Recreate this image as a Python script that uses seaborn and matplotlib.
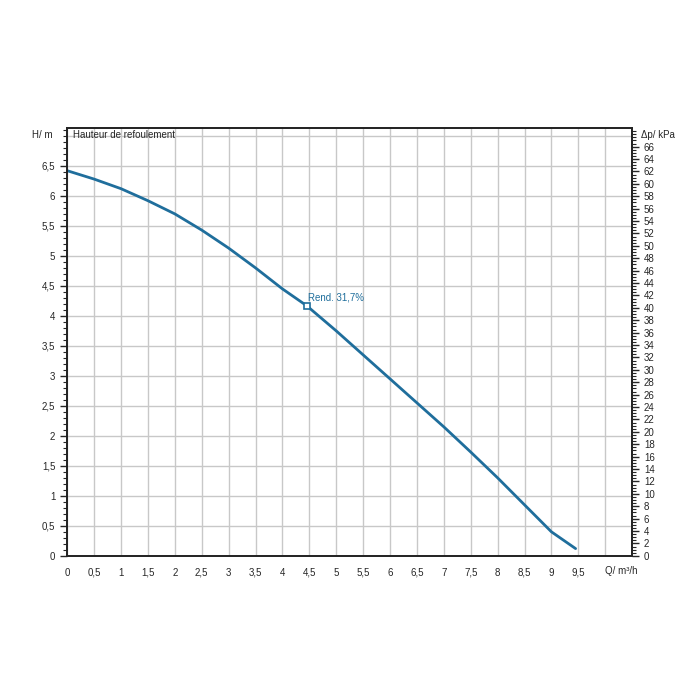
import matplotlib
matplotlib.use('Agg')
import matplotlib.pyplot as plt
import seaborn as sns
import numpy as np
from matplotlib.ticker import FuncFormatter

# Courbe de la pompe
debit = [0, 0.5, 1, 1.5, 2, 2.5, 3, 3.5, 4, 4.45, 5, 5.5, 6, 6.5, 7, 7.5, 8, 8.5, 9, 9.45]
hauteur = [6.42, 6.28, 6.12, 5.92, 5.70, 5.43, 5.13, 4.80, 4.45, 4.17, 3.75, 3.35,
           2.95, 2.55, 2.15, 1.73, 1.30, 0.85, 0.40, 0.12]
point_rend = (4.45, 4.17)
texte_rend = 'Rend. 31,7%'

sns.set_style('white')
plt.rcParams['font.family'] = ['Liberation Sans', 'DejaVu Sans']

fig = plt.figure(figsize=(7, 7), dpi=100)
ax = fig.add_axes([0.096, 0.206, 0.807, 0.611])
couleur = '#1f6e9c'

sns.lineplot(x=debit, y=hauteur, ax=ax, color=couleur, linewidth=2)
ax.plot(*point_rend, marker='s', markersize=5, markerfacecolor='white',
        markeredgecolor=couleur, markeredgewidth=1.2)
ax.annotate(texte_rend, point_rend, xytext=(1, 4), textcoords='offset points',
            fontsize=7, color=couleur)

virg = FuncFormatter(lambda v, p: f'{v:g}'.replace('.', ','))
ax.set_xticks(np.arange(0, 9.51, 0.5))
ax.set_xticks(np.arange(0, 10.51, 0.1), minor=True)
ax.set_yticks(np.arange(0, 6.51, 0.5))
ax.set_yticks(np.arange(0, 7.11, 0.1), minor=True)
ax.set_xlim(0, 10.5)
ax.set_ylim(0, 7.13)
ax.xaxis.set_major_formatter(virg)
ax.yaxis.set_major_formatter(virg)
# grille complète (y compris au-delà de 9,5)
for gx in np.arange(10, 10.5, 0.5):
    ax.axvline(gx, color='#c8c8c8', linewidth=1, zorder=0)
ax.axhline(7.0, color='#c8c8c8', linewidth=1, zorder=0)
ax.grid(True, which='major', color='#c8c8c8', linewidth=1)
ax.set_axisbelow(True)
for s in ax.spines.values():
    s.set_color('black')
    s.set_linewidth(1.2)
ax.tick_params(which='major', direction='out', length=5, width=1, labelsize=7)
ax.tick_params(which='minor', direction='out', length=3, width=0.8)

ax2 = ax.twinx()
ax2.set_yticks(np.arange(0, 67, 2))
ax2.set_yticks(np.arange(0, 69, 0.5), minor=True)
ax2.set_ylim(0, 69)
ax2.grid(False)
ax2.tick_params(which='major', direction='out', length=5, width=1, labelsize=7)
ax2.tick_params(which='minor', direction='out', length=3, width=0.8)
for s in ax2.spines.values():
    s.set_linewidth(1.2)

ax.text(-0.025, 0.985, 'H/ m', transform=ax.transAxes, fontsize=7, ha='right', va='center')
ax.text(0.01, 0.985, 'Hauteur de refoulement', transform=ax.transAxes, fontsize=7, va='center')
ax.text(1.015, 0.985, 'Δp/ kPa', transform=ax.transAxes, fontsize=7, va='center')
ax.text(10.0, -0.25, 'Q/ m³/h', fontsize=7, va='center')

fig.savefig('out.png', dpi=100)
